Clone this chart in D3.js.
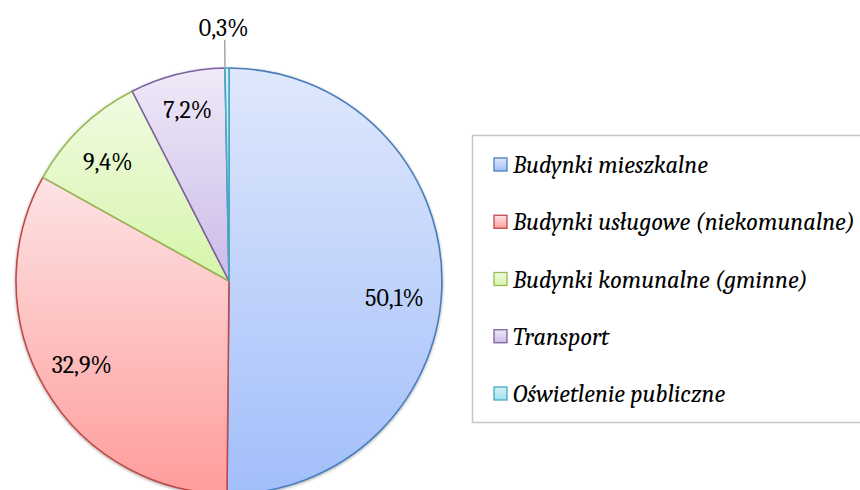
<!DOCTYPE html>
<html><head><meta charset="utf-8">
<script src="https://cdn.jsdelivr.net/npm/d3@7"></script>
<style>html,body{margin:0;padding:0;background:#fff;}svg{display:block;}</style>
</head><body>
<svg id="chart" width="860" height="490"></svg>
<script>
const categories = ["Budynki mieszkalne","Budynki usługowe (niekomunalne)","Budynki komunalne (gminne)","Transport","Oświetlenie publiczne"];
const values = [50.1, 32.9, 9.4, 7.2, 0.3];
const labels = ["50,1%","32,9%","9,4%","7,2%","0,3%"];

const strokeColors = ["#4a7ebb","#be4b48","#98b954","#7d60a0","#46aac5"];
const gradTop = ["#dfe8fc","#fde3e4","#f0fbe2","#efe9f8","#d6f2fa"];
const gradBottom = ["#a2befa","#ff9d9c","#d6f5aa","#cbbbe8","#9fdff0"];

// layout
const cx = 229, cy = 281, R = 213;
const labelDx = [-5, 0, -3, 0, 0];    // small nudges of inside labels
const labelDy = [16, -2, 3, -6, 0];
const font = "Cambria, Caladea, 'Liberation Serif', serif";

const svg = d3.select("#chart");
const defs = svg.append("defs");
categories.forEach((c,i)=>{
  const g = defs.append("linearGradient").attr("id","g"+i).attr("x1",0).attr("y1",0).attr("x2",0).attr("y2",1);
  g.append("stop").attr("offset","0%").attr("stop-color",gradTop[i]);
  g.append("stop").attr("offset","100%").attr("stop-color",gradBottom[i]);
});
const f = defs.append("filter").attr("id","sh").attr("x","-10%").attr("y","-10%").attr("width","120%").attr("height","120%");
f.append("feDropShadow").attr("dx",0).attr("dy",1).attr("stdDeviation",1.5).attr("flood-color","#000").attr("flood-opacity",0.35);

const pie = d3.pie().sort(null).value(d=>d).startAngle(0).endAngle(2*Math.PI);
const arcs = pie(values);
const arc = d3.arc().innerRadius(0).outerRadius(R);
const g = svg.append("g").attr("transform",`translate(${cx},${cy})`);
g.append("g").attr("filter","url(#sh)").selectAll("path").data(arcs).join("path")
  .attr("d",arc)
  .attr("fill",(d,i)=>`url(#g${i})`)
  .attr("stroke",(d,i)=>strokeColors[i])
  .attr("stroke-width",1.6)
  .attr("stroke-linejoin","round");

const inner = d3.arc().innerRadius(0).outerRadius(R*0.8*2);
arcs.forEach((d,i)=>{
  const a = (d.startAngle+d.endAngle)/2;
  if (values[i] < 2) {
    const x1 = Math.sin(a)*R, y1 = -Math.cos(a)*R;
    const x2 = Math.sin(a)*(R+28), y2 = -Math.cos(a)*(R+28);
    g.append("line").attr("x1",x1-2).attr("y1",y1).attr("x2",x2-2).attr("y2",y2)
      .attr("stroke","#a6a6a6").attr("stroke-width",1.5);
    g.append("text").attr("x",Math.sin(a)*(R+40)-3).attr("y",-Math.cos(a)*(R+40)+8)
      .attr("text-anchor","middle").attr("font-family",font).attr("font-size",24).attr("fill","#000")
      .text(labels[i]);
  } else {
    const [x,y] = inner.centroid(d);
    g.append("text").attr("x",x+labelDx[i]).attr("y",y+labelDy[i]).attr("dy","0.35em")
      .attr("text-anchor","middle").attr("font-family",font).attr("font-size",24).attr("fill","#000")
      .text(labels[i]);
  }
});

// legend
const lg = svg.append("g");
lg.append("rect").attr("x",472.5).attr("y",135.5).attr("width",420).attr("height",287)
  .attr("fill","#fff").attr("stroke","#c6c6c6").attr("stroke-width",1.5);
const ly = d3.scalePoint().domain(categories).range([165,394]);
categories.forEach((c,i)=>{
  const y = ly(c);
  lg.append("rect").attr("x",494).attr("y",y-7).attr("width",13).attr("height",13)
    .attr("fill",`url(#g${i})`).attr("stroke",strokeColors[i]).attr("stroke-width",1.3);
  lg.append("text").attr("x",513).attr("y",y).attr("dy","0.33em")
    .attr("font-family",font).attr("font-style","italic").attr("font-size",24.4).attr("fill","#000")
    .text(c);
});
</script>
</body></html>
